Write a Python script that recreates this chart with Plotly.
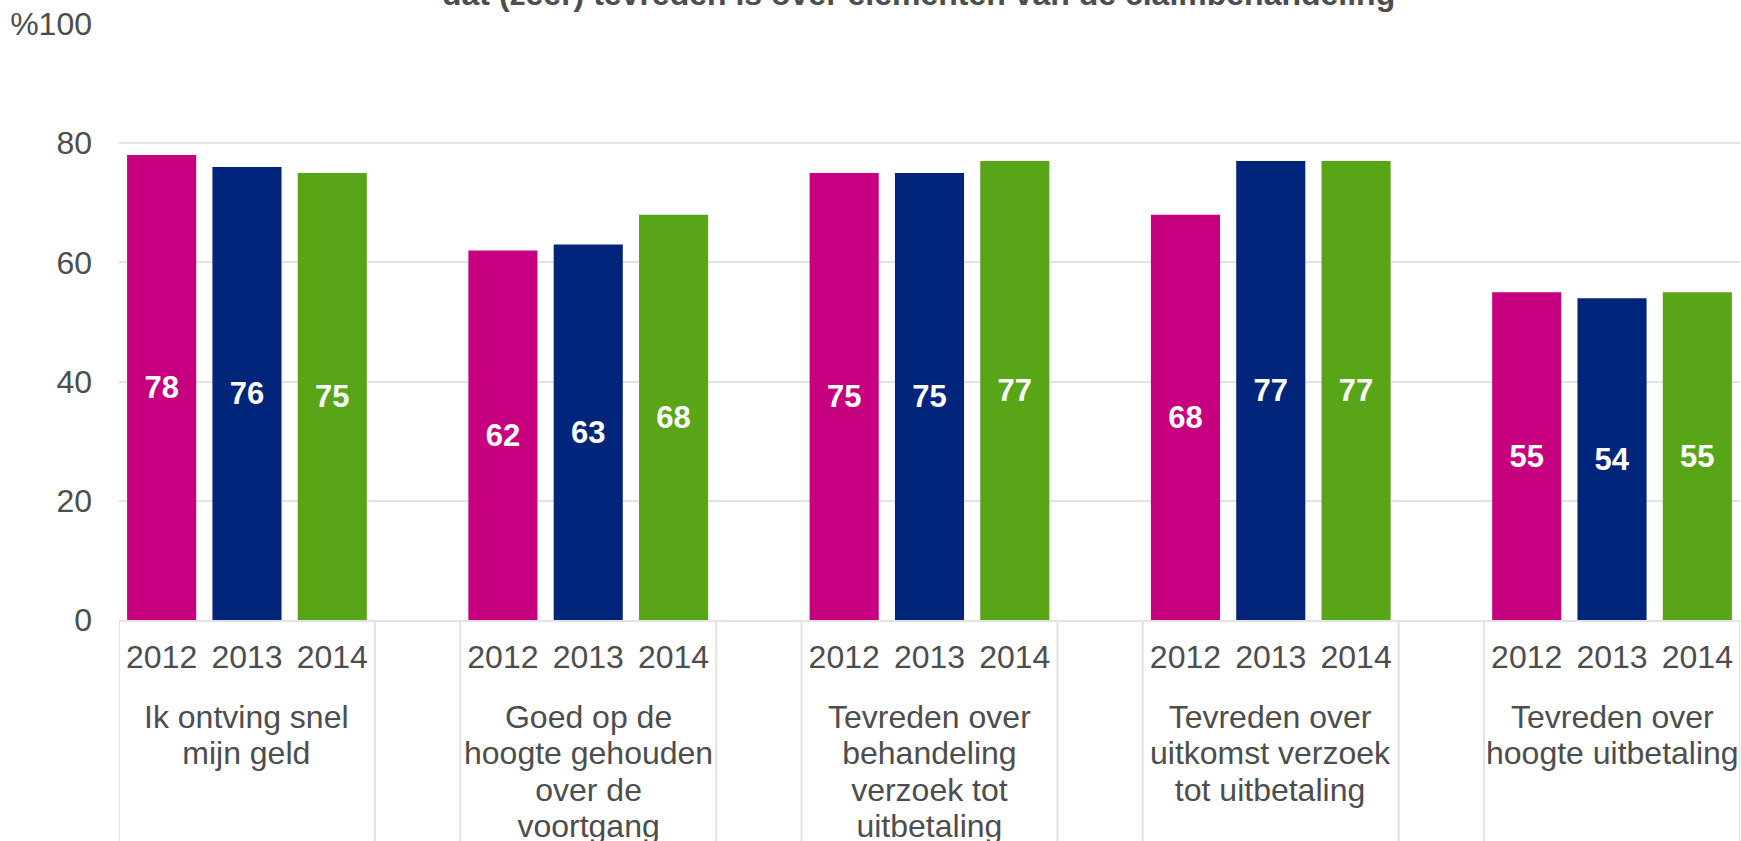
import plotly.graph_objects as go

# ---- data ----
title_text = "dat (zeer) tevreden is over elementen van de claimbehandeling"
groups = [
    "Ik ontving snel<br>mijn geld",
    "Goed op de<br>hoogte gehouden<br>over de<br>voortgang",
    "Tevreden over<br>behandeling<br>verzoek tot<br>uitbetaling",
    "Tevreden over<br>uitkomst verzoek<br>tot uitbetaling",
    "Tevreden over<br>hoogte uitbetaling",
]
years = ["2012", "2013", "2014"]
values_2012 = [78, 62, 75, 68, 55]
values_2013 = [76, 63, 75, 77, 54]
values_2014 = [75, 68, 77, 77, 55]
y_tickvals = [0, 20, 40, 60, 80, 100]
y_ticktext = ["0", "20", "40", "60", "80", "%100"]

series = {"2012": values_2012, "2013": values_2013, "2014": values_2014}
colors = {"2012": "#C6007E", "2013": "#00257A", "2014": "#58A518"}

FONT = "Arial, Liberation Sans, sans-serif"
GREY = "#4d4d4d"
LINE = "#e3e3e3"

# category ids: group/year slots with an empty slot between groups
def cid(g, y):
    return f"g{g}_{y}"

categories = []
tickvals, ticktext = [], []
for gi in range(len(groups)):
    for y in years:
        categories.append(cid(gi, y))
        tickvals.append(cid(gi, y))
        ticktext.append(y)
    if gi < len(groups) - 1:
        categories.append(f"gap{gi}")

fig = go.Figure()
for y in years:
    vals = series[y]
    fig.add_trace(go.Bar(
        x=[cid(gi, y) for gi in range(len(groups))],
        y=vals,
        name=y,
        marker=dict(color=colors[y], line=dict(width=0)),
        text=[str(v) for v in vals],
        textposition="inside",
        insidetextanchor="middle",
        textangle=0,
        textfont=dict(family=FONT, size=31, color="white", weight="bold"),
        hoverinfo="skip",
        showlegend=False,
    ))

# group dividers and group labels
shapes = []
annotations = []
for gi, g in enumerate(groups):
    first = categories.index(cid(gi, years[0]))
    last = categories.index(cid(gi, years[-1]))
    for xb in (first - 0.5, last + 0.5):
        shapes.append(dict(type="line", xref="x", yref="paper",
                           x0=xb, x1=xb, y0=0, y1=-0.4,
                           line=dict(color=LINE, width=2), layer="below"))
    lines = g.split("<br>")
    styled = "<br>".join(f"<span style='font-size:32px'>{ln}</span>" for ln in lines)
    annotations.append(dict(
        xref="x", yref="paper", x=cid(gi, years[1]), y=0,
        xanchor="center", yanchor="top", yshift=-77,
        text=styled, showarrow=False, align="center",
        font=dict(family=FONT, size=28, color=GREY),
    ))

annotations.append(dict(
    xref="paper", yref="paper", x=0.4935, y=1, xanchor="center",
    yanchor="bottom", yshift=10, text=f"<b>{title_text}</b>",
    showarrow=False, font=dict(family=FONT, size=32, color=GREY),
))

fig.update_layout(
    width=1741, height=841,
    margin=dict(l=119, r=1, t=24, b=221, autoexpand=False),
    paper_bgcolor="white", plot_bgcolor="white",
    barmode="overlay", bargap=0.19,
    shapes=shapes, annotations=annotations,
    xaxis=dict(
        type="category", categoryorder="array", categoryarray=categories,
        range=[-0.5, len(categories) - 0.5],
        tickvals=tickvals, ticktext=ticktext,
        tickfont=dict(family=FONT, size=32, color=GREY),
        showgrid=False, zeroline=False,
        showline=True, linecolor=LINE, linewidth=2,
        ticks="", ticklabelstandoff=8,
        fixedrange=True,
    ),
    yaxis=dict(
        range=[0, 100], tickvals=y_tickvals, ticktext=y_ticktext,
        tickfont=dict(family=FONT, size=32, color=GREY),
        showgrid=True, gridcolor=LINE, gridwidth=2,
        zeroline=False, showline=False, ticks="",
        ticklabelstandoff=26, fixedrange=True,
    ),
)

fig.write_html("out.html", config={"displayModeBar": False})
